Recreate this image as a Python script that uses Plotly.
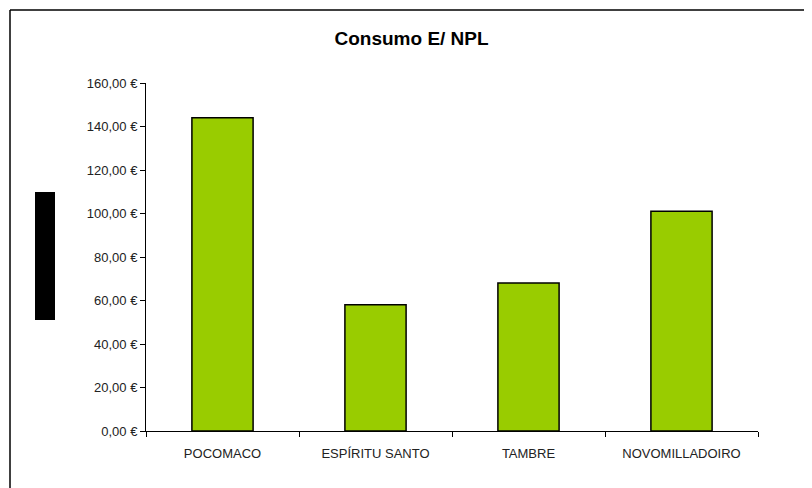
import plotly.graph_objects as go

categories = ["POCOMACO", "ESPÍRITU SANTO", "TAMBRE", "NOVOMILLADOIRO"]
values = [144, 58, 68, 101]
y_tick_vals = [0, 20, 40, 60, 80, 100, 120, 140, 160]
y_tick_text = ["0,00 €", "20,00 €", "40,00 €", "60,00 €", "80,00 €",
               "100,00 €", "120,00 €", "140,00 €", "160,00 €"]
title_text = "Consumo E/ NPL"

W, H = 812, 488
L, R, T, B = 138, 62, 75, 65
pw, ph = W - L - R, H - T - B

def px_x(px):
    return (px - L) / pw

def px_y(py):
    return (H - B - py) / ph

fig = go.Figure()
fig.add_trace(go.Bar(
    x=categories, y=values,
    marker=dict(color="#99CC00", line=dict(color="#000000", width=1.5)),
))

font_family = "Liberation Sans, Arial, sans-serif"

fig.update_layout(
    width=W, height=H,
    margin=dict(l=L, r=R, t=T, b=B),
    paper_bgcolor="white", plot_bgcolor="white",
    bargap=0.6,
    showlegend=False,
    font=dict(family=font_family, size=13, color="#222222"),
    title=dict(text="<b>" + title_text + "</b>", x=0.497, xanchor="center",
               y=1 - 30 / H, yanchor="middle",
               font=dict(family=font_family, size=19, color="#000000")),
    xaxis=dict(showline=True, linecolor="#000000", linewidth=1,
               ticks="outside", ticklen=5, tickcolor="#000000",
               tickson="boundaries", showgrid=False, zeroline=False,
               ticklabelstandoff=10,
               tickfont=dict(size=13, color="#222222")),
    yaxis=dict(range=[0, 160], tickvals=y_tick_vals, ticktext=y_tick_text,
               showline=True, linecolor="#000000", linewidth=1,
               ticks="outside", ticklen=5, tickcolor="#000000",
               showgrid=False, zeroline=False,
               tickfont=dict(size=13, color="#222222")),
    shapes=[
        dict(type="line", xref="paper", yref="paper",
             x0=px_x(2), x1=px_x(812), y0=px_y(2), y1=px_y(2),
             line=dict(color="#000000", width=1.5)),
        dict(type="line", xref="paper", yref="paper",
             x0=px_x(2), x1=px_x(2), y0=px_y(2), y1=px_y(488),
             line=dict(color="#000000", width=1.5)),
        dict(type="rect", xref="paper", yref="paper",
             x0=px_x(27), x1=px_x(47), y0=px_y(184), y1=px_y(312),
             fillcolor="#000000", line=dict(width=0)),
    ],
)

fig.write_html("out.html")
